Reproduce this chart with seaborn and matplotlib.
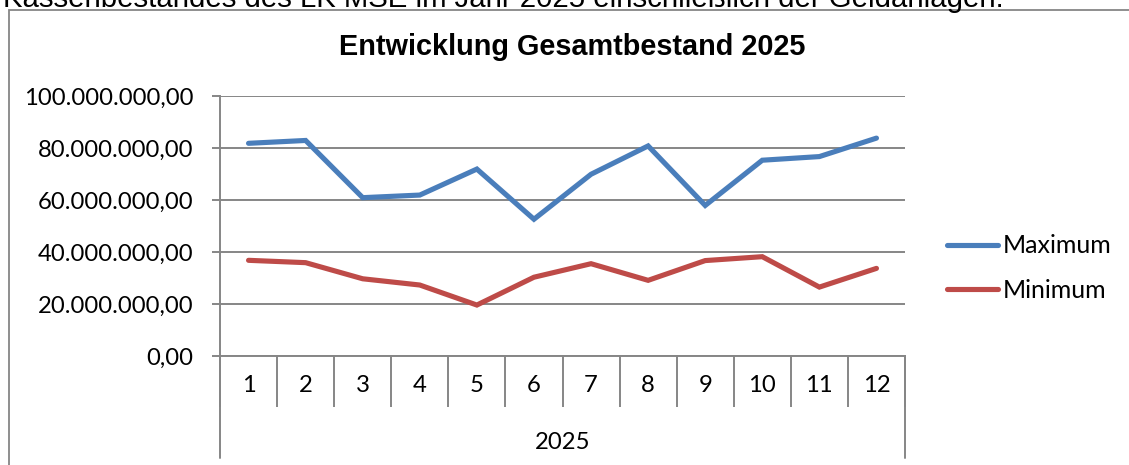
import numpy as np
import pandas as pd
import matplotlib
matplotlib.use("Agg")
import matplotlib.pyplot as plt
from matplotlib.ticker import FuncFormatter, FixedLocator
from matplotlib.patches import Rectangle
import seaborn as sns

# ---- data ----
months = [1, 2, 3, 4, 5, 6, 7, 8, 9, 10, 11, 12]
month_labels = ["1", "2", "3", "4", "5", "6", "7", "8", "9", "10", "11", "12"]
year_label = "2025"
maximum = [81_800_000, 82_900_000, 60_900_000, 61_900_000, 71_900_000, 52_600_000,
           69_900_000, 80_800_000, 57_900_000, 75_300_000, 76_700_000, 83_800_000]
minimum = [36_800_000, 35_900_000, 29_700_000, 27_300_000, 19_600_000, 30_300_000,
           35_500_000, 29_100_000, 36_700_000, 38_200_000, 26_500_000, 33_700_000]
series_names = ["Maximum", "Minimum"]
title = "Entwicklung Gesamtbestand 2025"
header_text = "Kassenbestandes des LK MSE im Jahr 2025 einschließlich der Geldanlagen."

df = pd.DataFrame({
    "Monat": months * 2,
    "Wert": maximum + minimum,
    "Serie": [series_names[0]] * len(months) + [series_names[1]] * len(months),
})

sns.set_theme(style="white")
plt.rcParams["font.family"] = ["Lato", "DejaVu Sans"]
plt.rcParams["text.color"] = "black"
plt.rcParams["axes.labelcolor"] = "black"
plt.rcParams["xtick.color"] = "black"
plt.rcParams["ytick.color"] = "black"

W, H = 1129, 465
fig = plt.figure(figsize=(W / 100, H / 100), dpi=100)

grid_col = "#868686"
palette = {"Maximum": "#4A7EBB", "Minimum": "#BE4B48"}
lab_fs = 17.2

# outer chart frame (cropped at right/bottom)
fig.patches.append(Rectangle((9 / W, -0.2), 2.0, (H - 10) / H + 0.2,
                             transform=fig.transFigure, fill=False,
                             edgecolor=grid_col, linewidth=1.3))

# header text cut off at the top
fig.text(3 / W, (H - 7) / H, header_text, ha="left", va="baseline",
         fontsize=21.2, family=["Liberation Sans", "DejaVu Sans"], color="black")

ax = fig.add_axes([220 / W, (H - 356) / H, (905 - 220) / W, 260 / H])
sns.lineplot(data=df, x="Monat", y="Wert", hue="Serie", palette=palette,
             linewidth=3.7, ax=ax, legend=False,
             solid_capstyle="round", solid_joinstyle="miter")

ax.set_xlim(0.5, 12.5)
ax.set_ylim(0, 100_000_000)
ax.yaxis.set_major_locator(FixedLocator(np.arange(0, 100_000_001, 20_000_000)))


def de_fmt(v, pos):
    s = f"{v:,.2f}"
    return s.replace(",", "X").replace(".", ",").replace("X", ".")


ax.yaxis.set_major_formatter(FuncFormatter(de_fmt))
ax.grid(axis="y", color=grid_col, linewidth=1.4)
ax.set_axisbelow(True)
for s in ["top", "right"]:
    ax.spines[s].set_visible(False)
for s in ["left", "bottom"]:
    ax.spines[s].set_color(grid_col)
    ax.spines[s].set_linewidth(1.4)

ax.tick_params(axis="y", which="major", direction="out", length=5.8, width=1.4,
               color=grid_col, pad=13.5, labelsize=lab_fs, labelcolor="black", left=True)

# x axis: month labels at centers, separators at boundaries
ax.set_xticks(months)
ax.set_xticklabels(month_labels)
ax.tick_params(axis="x", which="major", length=0, pad=13.5, labelsize=lab_fs,
               labelcolor="black")
ax.set_xticks(np.arange(0.5, 13.0, 1.0), minor=True)
ax.tick_params(axis="x", which="minor", direction="out", length=36.7, width=1.4,
               color=grid_col, bottom=True)
ax.set_xlabel("")
ax.set_ylabel("")

# outer group border lines and group label
trans = ax.get_xaxis_transform()
for xb in (0.5, 12.5):
    ax.plot([xb, xb], [0, -102 / 260], transform=trans, color=grid_col,
            linewidth=1.4, clip_on=False)
ax.text(6.5, -86 / 260, year_label, transform=trans, ha="center", va="center",
        fontsize=lab_fs, color="black")

# title
fig.text(572 / W, (H - 47) / H, title, ha="center", va="center",
         fontsize=20.8, fontweight="bold", color="black",
         family=["Liberation Sans", "DejaVu Sans"])

# legend
handles = [plt.Line2D([], [], color=palette[n], linewidth=3.7, solid_capstyle="round")
           for n in series_names]
fig.legend(handles, series_names, loc="center left",
           bbox_to_anchor=(937 / W, (H - 268) / H), frameon=False,
           fontsize=18.0, handlelength=2.05, handletextpad=0.18, labelspacing=0.85,
           borderaxespad=0, labelcolor="black")

fig.savefig("out.png", dpi=100)
